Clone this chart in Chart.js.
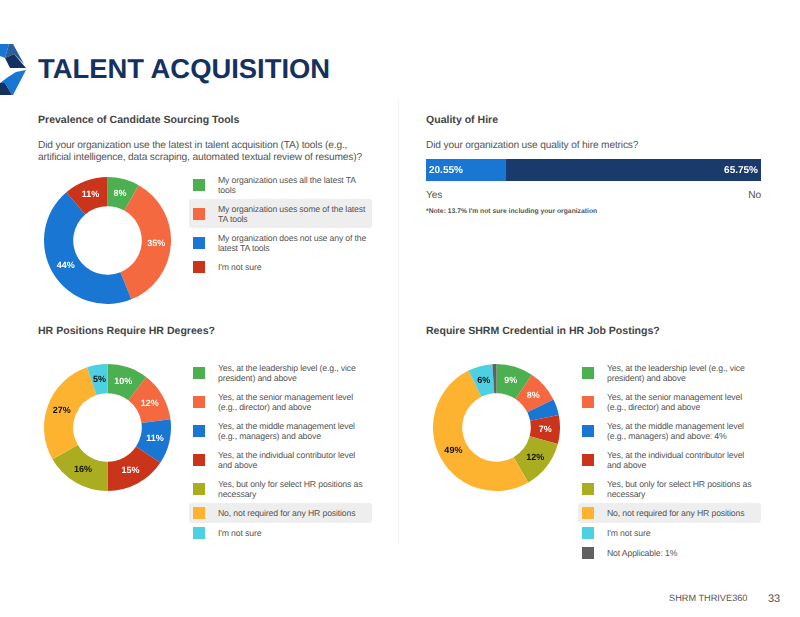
<!DOCTYPE html>
<html>
<head>
<meta charset="utf-8">
<title>Talent Acquisition</title>
<script src="https://cdn.jsdelivr.net/npm/chart.js@4"></script>
<style>
  html, body { margin: 0; padding: 0; background: #fff; }
  body { width: 800px; height: 617px; position: relative; overflow: hidden; font-family: "Liberation Sans", Arial, sans-serif; color: #555; text-rendering: geometricPrecision; }
  .abs { position: absolute; white-space: nowrap; }
  canvas { position: absolute; display: block; }
  #title { left: 38px; top: 52px; font-size: 27.4px; line-height: 34px; font-weight: bold; color: #15315f; }
  .heading { font-size: 10.55px; line-height: 14px; font-weight: bold; color: #444; }
  .question { font-size: 10.2px; line-height: 12.3px; letter-spacing: -.16px; color: #555; }
  .legend { position: absolute; width: 183px; }
  .row { display: flex; align-items: center; min-height: 11px; padding: 4.5px 0 4.5px 4px; font-size: 8.7px; line-height: 10px; letter-spacing: -.15px; border-radius: 3px; color: #555; white-space: pre; }
  .row.on { background: #eee; }
  .swatch { width: 12px; height: 12px; flex: none; margin: -1px 13px -1px 0; }
  #divider { position: absolute; left: 398px; top: 100px; width: 1px; height: 445px; background: #f3f3f3; }
</style>
</head>
<body>
<svg class="abs" style="left:0;top:36px" width="40" height="66" viewBox="0 0 40 66">
  <polygon points="0,8 9,8 5,22 0,20" fill="#1976d2"/>
  <polygon points="9,8 13,8 24,28 14,18 5,22" fill="#2a5f9e"/>
  <polygon points="5,22 14,18 26,32 10,32" fill="#15315f"/>
  <polygon points="26,34 16,36 8,41 0,47 5,47 12,59 13,59" fill="#1976d2"/>
  <polygon points="0,47 5,47 12,59 0,59" fill="#15315f"/>
</svg>
<div id="title" class="abs">TALENT ACQUISITION</div>
<div id="divider"></div>

<div class="abs heading" style="left:38px;top:113px">Prevalence of Candidate Sourcing Tools</div>
<div class="abs question" style="left:38px;top:140px">Did your organization use the latest in talent acquisition (TA) tools (e.g.,<br>artificial intelligence, data scraping, automated textual review of resumes)?</div>
<canvas id="toolsChart" width="127" height="127" style="left:44px;top:177px"></canvas>
<div id="toolsLegend" class="legend" style="left:189px;top:170px"></div>

<div class="abs heading" style="left:426px;top:113px">Quality of Hire</div>
<div class="abs question" style="left:426px;top:140px">Did your organization use quality of hire metrics?</div>
<canvas id="hireChart" width="335" height="22" style="left:426px;top:159px"></canvas>
<div class="abs question" style="left:426px;top:190px" id="yesLabel"></div>
<div class="abs question" style="right:39px;top:190px" id="noLabel"></div>
<div class="abs" style="left:426px;top:207px;font-size:6.75px;line-height:10px;font-weight:bold;color:#555">*Note: 13.7% I'm not sure including your organization</div>

<div class="abs heading" style="left:38px;top:324px">HR Positions Require HR Degrees?</div>
<canvas id="degreeChart" width="127" height="127" style="left:44px;top:364px"></canvas>
<div id="degreeLegend" class="legend" style="left:189px;top:358px"></div>

<div class="abs heading" style="left:426px;top:324px">Require SHRM Credential in HR Job Postings?</div>
<canvas id="shrmChart" width="127" height="127" style="left:433px;top:364px"></canvas>
<div id="shrmLegend" class="legend" style="left:578px;top:358px"></div>

<div class="abs" style="left:669px;top:592px;font-size:9.2px;line-height:13px;color:#555">SHRM THRIVE360</div>
<div class="abs" style="left:768px;top:592px;font-size:11px;line-height:14px;color:#555">33</div>

<script>
// ── Data ───────────────────────────────────────────
const toolsLabels = [
  'My organization uses all the latest TA\ntools',
  'My organization uses some of the latest\nTA tools',
  'My organization does not use any of the\nlatest TA tools',
  "I'm not sure"
];
const toolsValues = [8, 35, 44, 11];
const toolsColors = ['#4caf50', '#f4693f', '#1976d2', '#c9341a'];

const degreeLabels = [
  'Yes, at the leadership level (e.g., vice\npresident) and above',
  'Yes, at the senior management level\n(e.g., director) and above',
  'Yes, at the middle management level\n(e.g., managers) and above',
  'Yes, at the individual contributor level\nand above',
  'Yes, but only for select HR positions as\nnecessary',
  'No, not required for any HR positions',
  "I'm not sure"
];
const degreeValues = [10, 12, 11, 15, 16, 27, 5];
const degreeColors = ['#4caf50', '#f4693f', '#1976d2', '#c9341a', '#a9ad1f', '#fdb32f', '#4dd0e1'];

const shrmLabels = [
  'Yes, at the leadership level (e.g., vice\npresident) and above',
  'Yes, at the senior management level\n(e.g., director) and above',
  'Yes, at the middle management level\n(e.g., managers) and above: 4%',
  'Yes, at the individual contributor level\nand above',
  'Yes, but only for select HR positions as\nnecessary',
  'No, not required for any HR positions',
  "I'm not sure",
  'Not Applicable: 1%'
];
const shrmValues = [9, 8, 4, 7, 12, 49, 6, 1];
const shrmColors = ['#4caf50', '#f4693f', '#1976d2', '#c9341a', '#a9ad1f', '#fdb32f', '#4dd0e1', '#616161'];

const hireLabels = ['Yes', 'No'];
const hireValues = [20.55, 65.75];
const hireColors = ['#1976d2', '#1a3a6b'];

const darkTextOn = ['#a9ad1f', '#fdb32f', '#4dd0e1'];

// ── Slice labels ───────────────────────────────────
const sliceLabels = {
  id: 'sliceLabels',
  afterDatasetsDraw(chart) {
    const { ctx } = chart;
    const ds = chart.data.datasets[0];
    ctx.save();
    ctx.textRendering = 'geometricPrecision';
    ctx.font = 'bold 9px "Liberation Sans", Arial, sans-serif';
    ctx.textAlign = 'center';
    ctx.textBaseline = 'middle';
    chart.getDatasetMeta(0).data.forEach((arc, i) => {
      if (ds.data[i] < 5) return; // too thin, the original leaves these out
      const p = arc.tooltipPosition();
      ctx.fillStyle = darkTextOn.includes(ds.backgroundColor[i]) ? '#111' : '#fff';
      ctx.fillText(ds.data[i] + '%', p.x, p.y);
    });
    ctx.restore();
  }
};

function renderDonut(id, labels, values, colors) {
  new Chart(document.getElementById(id), {
    type: 'doughnut',
    data: { labels, datasets: [{ data: values, backgroundColor: colors, borderWidth: 0 }] },
    options: {
      responsive: false,
      animation: false,
      cutout: '54%',
      layout: { padding: 0 },
      plugins: { legend: { display: false }, tooltip: { enabled: false } }
    },
    plugins: [sliceLabels]
  });
}

function renderLegend(id, labels, colors, highlighted) {
  document.getElementById(id).innerHTML = labels.map((label, i) =>
    `<div class="row${i === highlighted ? ' on' : ''}"><span class="swatch" style="background:${colors[i]}"></span><span>${label}</span></div>`
  ).join('');
}

// ── Quality of hire bar ────────────────────────────
const hireBarLabels = {
  id: 'hireBarLabels',
  afterDatasetsDraw(chart) {
    const { ctx } = chart;
    ctx.save();
    ctx.textRendering = 'geometricPrecision';
    ctx.font = 'bold 10px "Liberation Sans", Arial, sans-serif';
    ctx.fillStyle = '#fff';
    ctx.textBaseline = 'middle';
    const first = chart.getDatasetMeta(0).data[0];
    const last = chart.getDatasetMeta(1).data[0];
    ctx.textAlign = 'left';
    ctx.fillText(hireValues[0] + '%', first.base + 3, first.y);
    ctx.textAlign = 'right';
    ctx.fillText(hireValues[1] + '%', last.x - 3, last.y);
    ctx.restore();
  }
};

function renderHireBar() {
  new Chart(document.getElementById('hireChart'), {
    type: 'bar',
    data: {
      labels: ['Quality of Hire'],
      datasets: hireLabels.map((label, i) => ({
        label,
        data: [hireValues[i]],
        backgroundColor: hireColors[i],
        barPercentage: 1,
        categoryPercentage: 1
      }))
    },
    options: {
      indexAxis: 'y',
      responsive: false,
      animation: false,
      layout: { padding: 0 },
      plugins: { legend: { display: false }, tooltip: { enabled: false } },
      scales: {
        x: { display: false, stacked: true, min: 0, max: hireValues[0] + hireValues[1] },
        y: { display: false, stacked: true }
      }
    },
    plugins: [hireBarLabels]
  });
  document.getElementById('yesLabel').textContent = hireLabels[0];
  document.getElementById('noLabel').textContent = hireLabels[1];
}

renderDonut('toolsChart', toolsLabels, toolsValues, toolsColors);
renderDonut('degreeChart', degreeLabels, degreeValues, degreeColors);
renderDonut('shrmChart', shrmLabels, shrmValues, shrmColors);
renderLegend('toolsLegend', toolsLabels, toolsColors, 1);
renderLegend('degreeLegend', degreeLabels, degreeColors, 5);
renderLegend('shrmLegend', shrmLabels, shrmColors, 5);
renderHireBar();
</script>
</body>
</html>
